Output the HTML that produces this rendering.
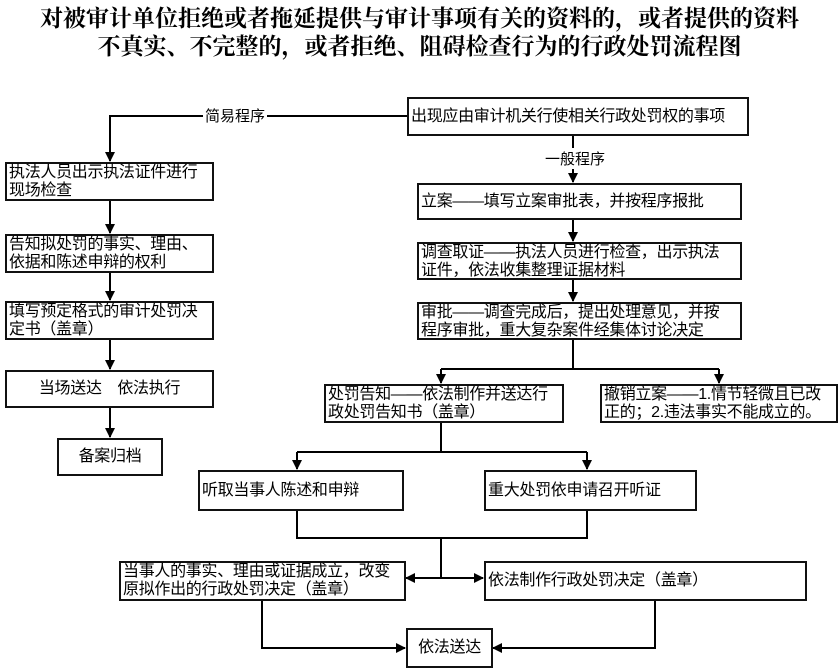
<!DOCTYPE html>
<html><head><meta charset="utf-8"><style>
body{margin:0;width:839px;height:669px;background:#fff;overflow:hidden;position:relative;font-family:"Liberation Sans","Noto Sans CJK SC",sans-serif;}
.t{position:absolute;left:0;width:839px;text-align:center;font-family:"Liberation Serif","Noto Serif CJK SC",serif;font-weight:bold;font-size:23px;line-height:28px;color:#000;white-space:nowrap}
.b{position:absolute;border:2px solid #111;box-sizing:border-box;font-size:16px;line-height:18px;padding:0 2px;color:#000;background:#fff;white-space:nowrap;letter-spacing:-0.3px}
.c{display:flex;align-items:center}
.cc{display:flex;align-items:center;justify-content:center}
svg{position:absolute;left:0;top:0}
.l{position:absolute;font-size:15px;background:#fff;padding:0 2px}
</style></head><body>
<div class="t" style="top:5px">对被审计单位拒绝或者拖延提供与审计事项有关的资料的，或者提供的资料</div>
<div class="t" style="top:33px">不真实、不完整的，或者拒绝、阻碍检查行为的行政处罚流程图</div>
<svg width="839" height="669">
<defs><marker id="a" markerWidth="10" markerHeight="10" refX="9" refY="5" orient="auto" markerUnits="userSpaceOnUse"><path d="M0,0 L10,5 L0,10 z" fill="#000"/></marker></defs>
<g stroke="#000" stroke-width="2" fill="none">
<path d="M408,116 H110 V161" marker-end="url(#a)"/>
<path d="M110,200 V233" marker-end="url(#a)"/>
<path d="M110,272 V300" marker-end="url(#a)"/>
<path d="M110,339 V369" marker-end="url(#a)"/>
<path d="M110,407 V437" marker-end="url(#a)"/>
<path d="M573,135 V182" marker-end="url(#a)"/>
<path d="M573,219 V241" marker-end="url(#a)"/>
<path d="M573,279 V301" marker-end="url(#a)"/>
<path d="M573,339 V369"/>
<path d="M441,369 H719"/>
<path d="M441,369 V383" marker-end="url(#a)"/>
<path d="M719,369 V383" marker-end="url(#a)"/>
<path d="M441,422 V452"/>
<path d="M297,452 H587"/>
<path d="M297,452 V469" marker-end="url(#a)"/>
<path d="M587,452 V469" marker-end="url(#a)"/>
<path d="M297,510 V538 H587 V510"/>
<path d="M441,538 V578"/>
<path d="M441,578 H406" marker-end="url(#a)"/>
<path d="M441,578 H483" marker-end="url(#a)"/>
<path d="M262,600 V648 H405" marker-end="url(#a)"/>
<path d="M655,600 V648 H493" marker-end="url(#a)"/>
</g></svg>
<div class="l" style="left:203px;top:105px">简易程序</div>
<div class="l" style="left:543px;top:148px">一般程序</div>
<div class="b" style="left:5px;top:162px;width:209px;height:39px">执法人员出示执法证件进行<br>现场检查</div>
<div class="b" style="left:5px;top:234px;width:209px;height:39px">告知拟处罚的事实、理由、<br>依据和陈述申辩的权利</div>
<div class="b" style="left:5px;top:301px;width:209px;height:39px">填写预定格式的审计处罚决<br>定书（盖章）</div>
<div class="b cc" style="left:5px;top:370px;width:209px;height:38px">当场送达　依法执行</div>
<div class="b cc" style="left:57px;top:438px;width:106px;height:38px">备案归档</div>
<div class="b c" style="left:407px;top:97px;width:342px;height:39px">出现应由审计机关行使相关行政处罚权的事项</div>
<div class="b c" style="left:417px;top:183px;width:325px;height:37px">立案——填写立案审批表，并按程序报批</div>
<div class="b" style="left:417px;top:242px;width:325px;height:38px">调查取证——执法人员进行检查，出示执法<br>证件，依法收集整理证据材料</div>
<div class="b" style="left:417px;top:302px;width:325px;height:38px">审批——调查完成后，提出处理意见，并按<br>程序审批，重大复杂案件经集体讨论决定</div>
<div class="b" style="left:324px;top:384px;width:240px;height:39px">处罚告知——依法制作并送达行<br>政处罚告知书（盖章）</div>
<div class="b" style="left:600px;top:384px;width:238px;height:39px">撤销立案——1.情节轻微且已改<br>正的；2.违法事实不能成立的。</div>
<div class="b c" style="left:198px;top:470px;width:206px;height:41px">听取当事人陈述和申辩</div>
<div class="b c" style="left:484px;top:470px;width:213px;height:41px">重大处罚依申请召开听证</div>
<div class="b" style="left:119px;top:561px;width:287px;height:40px">当事人的事实、理由或证据成立，改变<br>原拟作出的行政处罚决定（盖章）</div>
<div class="b c" style="left:484px;top:561px;width:323px;height:40px">依法制作行政处罚决定（盖章）</div>
<div class="b cc" style="left:406px;top:628px;width:87px;height:40px">依法送达</div>
</body></html>
